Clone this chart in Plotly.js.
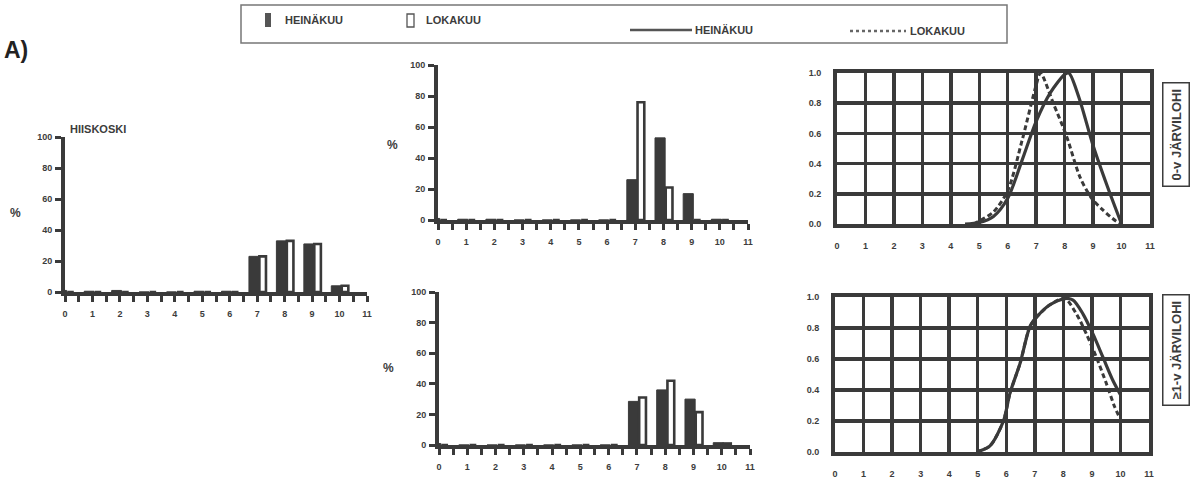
<!DOCTYPE html>
<html>
<head>
<meta charset="utf-8">
<script src="https://cdn.plot.ly/plotly-3.0.1.min.js"></script>
<style>
html,body{margin:0;padding:0;background:#fff;}
#chart{width:1191px;height:478px;}
</style>
</head>
<body>
<div id="chart"></div>
<script>
// ---------- DATA ----------
const seriesNames = ['HEINÄKUU', 'LOKAKUU'];
const lengthClasses = [0, 1, 2, 3, 4, 5, 6, 7, 8, 9, 10];
const xTickLabels = ['0','1','2','3','4','5','6','7','8','9','10','11'];
const pctTickLabels = ['0','20','40','60','80','100'];
const probTickLabels = ['0.0','0.2','0.4','0.6','0.8','1.0'];

// Hiiskoski (left)
const hiiskoskiHeina = [1, 0.5, 1, 0, 0, 0.5, 0.5, 23, 33, 31, 4];
const hiiskoskiLoka  = [0, 0, 0, 0, 0, 0, 0, 23, 33, 31, 4];
// middle top
const midTopHeina = [1, 0.5, 0.5, 0, 0, 0, 0, 26, 53, 17, 0.5];
const midTopLoka  = [0, 0, 0, 0, 0, 0, 0, 76, 21, 0, 0];
// middle bottom
const midBotHeina = [1, 0, 0, 0, 0, 0, 0, 28.5, 36, 30, 1.5];
const midBotLoka  = [0, 0, 0, 0, 0, 0, 0, 31, 42, 21.5, 1];

// 0-v järvilohi curves (right top)
const c0HeinaX = [4.5, 5, 5.5, 6, 6.5, 7, 7.5, 8, 8.15, 8.5, 9, 9.5, 10];
const c0HeinaY = [0, 0.01, 0.05, 0.17, 0.42, 0.68, 0.87, 0.99, 1.0, 0.84, 0.52, 0.25, 0];
const c0LokaX  = [4.8, 5, 5.5, 6, 6.5, 7, 7.15, 7.6, 8.07, 8.54, 8.95, 9.36, 9.8, 10];
const c0LokaY  = [0, 0.02, 0.08, 0.22, 0.55, 0.92, 1.0, 0.8, 0.58, 0.31, 0.17, 0.09, 0.02, 0];
// ≥1-v järvilohi curves (right bottom)
const c1HeinaX = [4.96, 5.43, 5.9, 6.13, 6.48, 6.83, 7.06, 7.53, 8.05, 8.34, 8.69, 9.04, 9.39, 9.74, 10];
const c1HeinaY = [0, 0.04, 0.2, 0.38, 0.57, 0.81, 0.87, 0.95, 0.99, 0.98, 0.89, 0.76, 0.61, 0.46, 0.37];
const c1LokaX  = [4.96, 5.43, 5.9, 6.13, 6.48, 6.83, 7.06, 7.53, 8.05, 8.46, 8.81, 9.16, 9.51, 9.8, 9.95];
const c1LokaY  = [0, 0.04, 0.2, 0.38, 0.57, 0.81, 0.87, 0.95, 0.99, 0.89, 0.76, 0.61, 0.44, 0.29, 0.23];

// tick positions (axis decoration)
const halfTickVals = [0,0.5,1,1.5,2,2.5,3,3.5,4,4.5,5,5.5,6,6.5,7,7.5,8,8.5,9,9.5,10,10.5,11];
const halfTickText = halfTickVals.map(v => Number.isInteger(v) ? String(v) : '');
const oddTenthVals = [0.1, 0.3, 0.5, 0.7, 0.9];

// ---------- HELPERS ----------
const W = 1191, H = 478;
const px = v => v / W;
const py = v => 1 - v / H;
const ink = '#3a3a3a';
const txt = '#3c3c3c';
const FF = 'Liberation Sans, Arial, sans-serif';
const tickFont = {family: FF, size: 9, color: txt, weight: 'bold'};

function barPair(h, l, xa, ya) {
  return [
    {type: 'bar', name: seriesNames[0], x: lengthClasses, y: h, xaxis: xa, yaxis: ya,
     offset: -0.3, width: 0.36, marker: {color: ink, line: {color: ink, width: 1}}, showlegend: false, hoverinfo: 'x+y'},
    {type: 'bar', name: seriesNames[1], x: lengthClasses, y: l, xaxis: xa, yaxis: ya,
     offset: 0.08, width: 0.24, marker: {color: '#ffffff', line: {color: ink, width: 2.6}}, showlegend: false, hoverinfo: 'x+y'}
  ];
}
function curvePair(hx, hy, lx, ly, xa, ya) {
  return [
    {type: 'scatter', mode: 'lines', name: seriesNames[0], x: hx, y: hy, xaxis: xa, yaxis: ya,
     line: {color: ink, width: 3.2, shape: 'spline', smoothing: 0.8}, showlegend: false},
    {type: 'scatter', mode: 'lines', name: seriesNames[1], x: lx, y: ly, xaxis: xa, yaxis: ya,
     line: {color: ink, width: 3, dash: '5px,3px', shape: 'spline', smoothing: 0.8}, showlegend: false}
  ];
}

function barX(x0, x1, yAnchor) {
  return {domain: [px(x0), px(x1)], anchor: yAnchor, range: [0, 11], fixedrange: true,
    tickmode: 'array', tickvals: halfTickVals, ticktext: halfTickText,
    ticks: 'outside', ticklen: 6, tickwidth: 3, tickcolor: ink,
    showline: true, linewidth: 4, linecolor: ink, showgrid: false, zeroline: false,
    tickfont: tickFont, ticklabelstandoff: 4};
}
function barY(y0, y1, xAnchor) {
  return {domain: [py(y0), py(y1)], anchor: xAnchor, range: [0, 100], fixedrange: true,
    tickmode: 'array', tickvals: pctTickLabels.map(Number), ticktext: pctTickLabels,
    ticks: 'outside', ticklen: 6, tickwidth: 3, tickcolor: ink,
    showline: true, linewidth: 4, linecolor: ink, showgrid: false, zeroline: false,
    tickfont: tickFont, ticklabelstandoff: 1};
}
function lineX(x0, x1, yAnchor) {
  return {domain: [px(x0), px(x1)], anchor: yAnchor, range: [0, 11], fixedrange: true,
    tickmode: 'array', tickvals: xTickLabels.map(Number), ticktext: xTickLabels,
    ticks: '', showline: true, mirror: true, linewidth: 4, linecolor: ink,
    showgrid: true, gridcolor: ink, gridwidth: 3.5, zeroline: false,
    tickfont: tickFont, ticklabelstandoff: 10};
}
function lineY(y0, y1, xAnchor) {
  return {domain: [py(y0), py(y1)], anchor: xAnchor, range: [0, 1], fixedrange: true,
    tickmode: 'array', tickvals: probTickLabels.map(Number), ticktext: probTickLabels,
    ticks: '', showline: true, mirror: true, linewidth: 4, linecolor: ink,
    showgrid: true, gridcolor: ink, gridwidth: 3.5, zeroline: false,
    tickfont: tickFont, ticklabelstandoff: 10};
}
function tenthY(y0, y1, xAnchor, over) {
  return {domain: [py(y0), py(y1)], anchor: xAnchor, overlaying: over, range: [0, 1], fixedrange: true,
    tickmode: 'array', tickvals: oddTenthVals, ticktext: oddTenthVals.map(() => ''),
    ticks: 'outside', ticklen: 3, tickwidth: 3, tickcolor: ink,
    showline: false, showgrid: false, zeroline: false};
}

const data = [].concat(
  barPair(hiiskoskiHeina, hiiskoskiLoka, 'x', 'y'),
  barPair(midTopHeina, midTopLoka, 'x2', 'y2'),
  barPair(midBotHeina, midBotLoka, 'x3', 'y3'),
  curvePair(c0HeinaX, c0HeinaY, c0LokaX, c0LokaY, 'x4', 'y4'),
  curvePair(c1HeinaX, c1HeinaY, c1LokaX, c1LokaY, 'x5', 'y5'),
  [{type: 'scatter', mode: 'lines', x: [], y: [], xaxis: 'x4', yaxis: 'y6', showlegend: false, hoverinfo: 'skip'},
   {type: 'scatter', mode: 'lines', x: [], y: [], xaxis: 'x5', yaxis: 'y7', showlegend: false, hoverinfo: 'skip'}]
);

function ann(text, x, y, size, opts) {
  return Object.assign({xref: 'paper', yref: 'paper', x: px(x), y: py(y), text: text, showarrow: false,
    font: {family: FF, size: size, color: txt, weight: 'bold'}, xanchor: 'center', yanchor: 'middle'}, opts || {});
}

const annotations = [
  ann('A)', 2, 50, 23, {xanchor: 'left', font: {family: FF, size: 23, color: '#222', weight: 'bold'}}),
  ann('HIISKOSKI', 68, 129, 11, {xanchor: 'left'}),
  ann('%', 15, 213, 12),
  ann('%', 392, 145, 12),
  ann('%', 389, 368, 12),
  // legend texts
  ann(seriesNames[0], 283, 20, 11, {xanchor: 'left'}),
  ann(seriesNames[1], 424, 20, 11, {xanchor: 'left'}),
  ann(seriesNames[0], 693, 30, 11, {xanchor: 'left'}),
  ann(seriesNames[1], 908, 31, 11, {xanchor: 'left'}),
  // side labels
  ann('0-v JÄRVILOHI', 1176, 135, 13, {textangle: -90, bordercolor: txt, borderwidth: 1.5, borderpad: 5}),
  ann('≥1-v JÄRVILOHI', 1176, 350, 13, {textangle: -90, bordercolor: txt, borderwidth: 1.5, borderpad: 5})
];

const shapes = [
  {type: 'rect', xref: 'paper', yref: 'paper', x0: px(241), x1: px(1007), y0: py(43), y1: py(5), line: {color: '#777', width: 1.5}},
  {type: 'rect', xref: 'paper', yref: 'paper', x0: px(265), x1: px(271), y0: py(27), y1: py(13), fillcolor: '#555', line: {width: 0}},
  {type: 'rect', xref: 'paper', yref: 'paper', x0: px(407), x1: px(414), y0: py(27), y1: py(14), fillcolor: '#fff', line: {color: '#555', width: 1.3}},
  {type: 'line', xref: 'paper', yref: 'paper', x0: px(630), x1: px(692), y0: py(30), y1: py(30), line: {color: '#555', width: 2.5}},
  {type: 'line', xref: 'paper', yref: 'paper', x0: px(850), x1: px(906), y0: py(31), y1: py(31), line: {color: '#666', width: 2.5, dash: '3px,3px'}}
];

const layout = {
  width: W, height: H, margin: {l: 0, r: 0, t: 0, b: 0},
  paper_bgcolor: '#fff', plot_bgcolor: 'rgba(0,0,0,0)',
  showlegend: false, barmode: 'overlay',
  font: {family: FF, color: txt},
  xaxis: barX(65, 367, 'y'), yaxis: barY(292, 137, 'x'),
  xaxis2: barX(438, 748, 'y2'), yaxis2: barY(220, 65, 'x2'),
  xaxis3: barX(439, 750, 'y3'), yaxis3: barY(445, 292, 'x3'),
  xaxis4: lineX(837, 1150, 'y4'), yaxis4: lineY(224, 73, 'x4'),
  xaxis5: lineX(835, 1149, 'y5'), yaxis5: lineY(452, 297, 'x5'),
  yaxis6: tenthY(224, 73, 'x4', 'y4'),
  yaxis7: tenthY(452, 297, 'x5', 'y5'),
  annotations: annotations, shapes: shapes
};

Plotly.newPlot('chart', data, layout, {staticPlot: true, displayModeBar: false});
</script>
</body>
</html>
